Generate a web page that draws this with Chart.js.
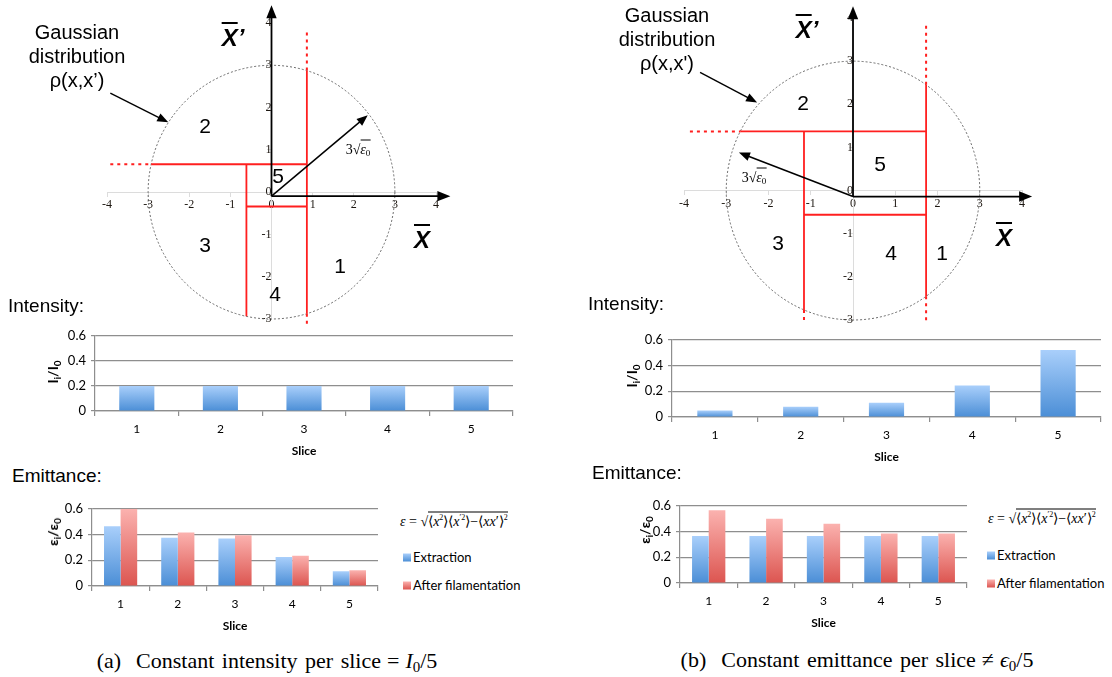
<!DOCTYPE html>
<html>
<head>
<meta charset="utf-8">
<title>Slicing of a Gaussian beam in phase space</title>
<script src="https://cdn.jsdelivr.net/npm/chart.js@4.4.1/dist/chart.umd.min.js"></script>
<style>
  body { margin: 0; background: #fff; }
  #page { position: relative; width: 1112px; height: 677px; overflow: hidden;
          font-family: "Liberation Sans", Arial, sans-serif; color: #000; }
  #page canvas { position: absolute; }
  .t { position: absolute; white-space: nowrap; line-height: 1; transform: translate(-50%, -50%); }
  .l { position: absolute; white-space: nowrap; line-height: 1; transform: translateY(-50%); }
  .num { font-size: 21px; }
  .gauss { font-size: 20px; line-height: 24px; text-align: center; }
  .axlab { font-size: 24px; font-weight: bold; font-style: italic; }
  .ov { text-decoration: overline; text-decoration-thickness: 2px; }
  .sec { font-size: 19px; }
  .ytitle { font-family: Lato, sans-serif; font-weight: bold; font-size: 14px;
            transform: translate(-50%, -50%) rotate(-90deg); }
  .ytitle sub { font-size: 10px; vertical-align: -3px; }
  .cap { font-family: "Liberation Serif", serif; font-size: 22px; word-spacing: 2px; }
  .cap sub { font-size: 15px; vertical-align: -4px; }
  .cap .op { padding: 0 6px; }
  .formula { font-family: "Liberation Serif", serif; font-size: 14px; }
  .formula sup { font-size: 8px; vertical-align: 6px; }
  .rad { border-top: 1px solid #000; padding-top: 1px; }
  .rt { font-family: "Liberation Serif", serif; font-size: 14px; }
  .rt sub { font-size: 9px; vertical-align: -2px; }
  .leg { font-family: Lato, sans-serif; font-size: 13px; }
  .sw { display: inline-block; width: 8px; height: 8px; margin-right: 2px; vertical-align: 0px; }
  .sw.b { background: linear-gradient(#a9cffb, #4b8ed6); }
  .sw.r { background: linear-gradient(#fbb2af, #dc5550); }
</style>
</head>
<body>
<div id="page">
  <canvas id="phaseA"></canvas>
  <canvas id="phaseB"></canvas>
  <canvas id="intensityA"></canvas>
  <canvas id="intensityB"></canvas>
  <canvas id="emittanceA"></canvas>
  <canvas id="emittanceB"></canvas>

  <!-- (a) phase space labels -->
  <div class="t gauss" style="left:77px; top:56px;">Gaussian<br>distribution<br>&rho;(x,x&rsquo;)</div>
  <div class="t axlab" style="left:233px; top:38px;"><span class="ov">X</span>&rsquo;</div>
  <div class="t axlab" style="left:422px; top:240px;"><span class="ov">X</span></div>
  <div class="t num" style="left:205px; top:125px;">2</div>
  <div class="t num" style="left:278px; top:175px;">5</div>
  <div class="t num" style="left:205px; top:244px;">3</div>
  <div class="t num" style="left:340px; top:265px;">1</div>
  <div class="t num" style="left:275px; top:293px;">4</div>
  <div class="t rt" style="left:358px; top:150px;">3&radic;<span class="rad"><i>&epsilon;</i><sub>0</sub></span></div>

  <!-- (b) phase space labels -->
  <div class="t gauss" style="left:667px; top:39px;">Gaussian<br>distribution<br>&rho;(x,x')</div>
  <div class="t axlab" style="left:807px; top:30px;"><span class="ov">X</span>&rsquo;</div>
  <div class="t axlab" style="left:1004px; top:238px;"><span class="ov">X</span></div>
  <div class="t num" style="left:803px; top:102px;">2</div>
  <div class="t num" style="left:880px; top:163px;">5</div>
  <div class="t num" style="left:778px; top:242px;">3</div>
  <div class="t num" style="left:891px; top:252px;">4</div>
  <div class="t num" style="left:942px; top:252px;">1</div>
  <div class="t rt" style="left:754px; top:178px;">3&radic;<span class="rad"><i>&epsilon;</i><sub>0</sub></span></div>

  <!-- section headings -->
  <div class="l sec" style="left:8px; top:305px;">Intensity:</div>
  <div class="l sec" style="left:588px; top:303px;">Intensity:</div>
  <div class="l sec" style="left:12px; top:475px;">Emittance:</div>
  <div class="l sec" style="left:592px; top:472px;">Emittance:</div>

  <!-- rotated y titles -->
  <div class="t ytitle" style="left:54px; top:372px;">I<sub>i</sub>/I<sub>0</sub></div>
  <div class="t ytitle" style="left:633px; top:376px;">I<sub>i</sub>/I<sub>0</sub></div>
  <div class="t ytitle" style="left:54px; top:532px;">&epsilon;<sub>i</sub>/&epsilon;<sub>0</sub></div>
  <div class="t ytitle" style="left:646px; top:530px;">&epsilon;<sub>i</sub>/&epsilon;<sub>0</sub></div>

  <!-- emittance formula and legends -->
  <div class="l formula" style="left:400px; top:521px;"><i>&epsilon;</i> = &radic;<span class="rad">&lang;<i>x</i><sup>2</sup>&rang;&lang;<i>x</i><sup>&prime;2</sup>&rang;&minus;&lang;<i>xx</i>&prime;&rang;<sup>2</sup></span></div>
  <div class="l leg" style="left:403px; top:557px;"><span class="sw b"></span>Extraction</div>
  <div class="l leg" style="left:403px; top:585px;"><span class="sw r"></span>After filamentation</div>

  <div class="l formula" style="left:988px; top:518px;"><i>&epsilon;</i> = &radic;<span class="rad">&lang;<i>x</i><sup>2</sup>&rang;&lang;<i>x</i><sup>&prime;2</sup>&rang;&minus;&lang;<i>xx</i>&prime;&rang;<sup>2</sup></span></div>
  <div class="l leg" style="left:987px; top:555px;"><span class="sw b"></span>Extraction</div>
  <div class="l leg" style="left:987px; top:583px;"><span class="sw r"></span>After filamentation</div>

  <!-- captions -->
  <div class="t cap" style="left:267px; top:662px;">(a)&nbsp; Constant intensity per slice<span class="op">=</span><i>I</i><sub>0</sub>/5</div>
  <div class="t cap" style="left:857px; top:661px;">(b)&nbsp; Constant emittance per slice<span class="op">&ne;</span><i>&#x3F5;</i><sub>0</sub>/5</div>
</div>

<script>
(function () {
    'use strict';

    // ---- data ----
    var slices = ['1', '2', '3', '4', '5'];
    var intensityA = [0.2, 0.2, 0.2, 0.2, 0.2];
    var intensityB = [0.05, 0.08, 0.11, 0.245, 0.52];
    var extractionA = [0.465, 0.375, 0.37, 0.225, 0.115];
    var filamentA = [0.6, 0.415, 0.395, 0.235, 0.122];
    var extractionB = [0.365, 0.365, 0.365, 0.365, 0.365];
    var filamentB = [0.565, 0.5, 0.46, 0.385, 0.385];
    var barTicks = [0, 0.2, 0.4, 0.6];

    // phase space (normalised units), beam edge at 3 sigma
    var edge = 3;
    var phaseXTicks = [-4, -3, -2, -1, 0, 1, 2, 3, 4];
    var phaseYTicks = [-3, -2, -1, 0, 1, 2, 3, 4];
    var cutXA = [-0.61, 0.86];
    var cutYA = [-0.34, 0.66];
    var cutXB = [-1.16, 1.73];
    var cutYB = [-0.56, 1.37];

    var RED = '#ff1f1f';

    function onCircle(v) {
        return Math.sqrt(edge * edge - v * v);
    }

    function segment(x0, y0, x1, y1, dotted) {
        return {
            data: [{x: x0, y: y0}, {x: x1, y: y1}],
            showLine: true,
            borderColor: RED,
            borderWidth: dotted ? 2 : 1.8,
            borderDash: dotted ? [3, 4] : [],
            pointRadius: 0,
            clip: false
        };
    }

    // the four cuts: x1 and y1 are full chords, the others end on a cut
    function sliceLines(cx, cy, reach) {
        var sets = [
            segment(cx[1], -onCircle(cx[1]), cx[1], onCircle(cx[1])),
            segment(cx[0], cy[1], cx[0], -onCircle(cx[0])),
            segment(-onCircle(cy[1]), cy[1], cx[1], cy[1]),
            segment(cx[0], cy[0], cx[1], cy[0]),
            segment(cx[1], onCircle(cx[1]), cx[1], reach.top, true),
            segment(cx[1], -onCircle(cx[1]), cx[1], reach.bottom, true),
            segment(reach.left, cy[1], -onCircle(cy[1]), cy[1], true)
        ];
        if (reach.bottomLeft) {
            sets.push(segment(cx[0], -onCircle(cx[0]), cx[0], reach.bottomLeft, true));
        }
        return sets;
    }

    function arrow(ctx, x0, y0, x1, y1, head, lw) {
        var a = Math.atan2(y1 - y0, x1 - x0);
        var c = Math.cos(a), s = Math.sin(a);
        ctx.lineWidth = lw;
        ctx.beginPath();
        ctx.moveTo(x0, y0);
        ctx.lineTo(x1 - head * 0.8 * c, y1 - head * 0.8 * s);
        ctx.stroke();
        ctx.beginPath();
        ctx.moveTo(x1, y1);
        ctx.lineTo(x1 - head * c + head * 0.4 * s, y1 - head * s - head * 0.4 * c);
        ctx.lineTo(x1 - head * c - head * 0.4 * s, y1 - head * s + head * 0.4 * c);
        ctx.closePath();
        ctx.fill();
    }

    function phaseDecor(opt) {
        return {
            id: 'phaseDecor',
            beforeDatasetsDraw: function (chart) {
                var ctx = chart.ctx, xs = chart.scales.x, ys = chart.scales.y;
                var cx = xs.getPixelForValue(0), cy = ys.getPixelForValue(0);
                ctx.save();
                ctx.strokeStyle = '#5a5a5a';
                ctx.lineWidth = 0.9;
                ctx.setLineDash([2, 2]);
                ctx.beginPath();
                ctx.ellipse(cx, cy, xs.getPixelForValue(edge) - cx, cy - ys.getPixelForValue(edge), 0, 0, Math.PI * 2);
                ctx.stroke();
                ctx.restore();
            },
            afterDatasetsDraw: function (chart) {
                var ctx = chart.ctx, xs = chart.scales.x, ys = chart.scales.y;
                var ox = xs.getPixelForValue(0), oy = ys.getPixelForValue(0) + opt.drop;
                ctx.save();
                ctx.strokeStyle = '#000';
                ctx.fillStyle = '#000';
                arrow(ctx, ox, oy, xs.getPixelForValue(opt.axisEnd[0]), oy, 13, 1.8);
                arrow(ctx, ox, oy, ox, ys.getPixelForValue(opt.axisEnd[1]), 13, 1.8);
                arrow(ctx, ox, oy, xs.getPixelForValue(opt.radius[0]), ys.getPixelForValue(opt.radius[1]), 11, 1.5);
                arrow(ctx, xs.getPixelForValue(opt.pointer[0]), ys.getPixelForValue(opt.pointer[1]),
                    xs.getPixelForValue(opt.pointer[2]), ys.getPixelForValue(opt.pointer[3]), 11, 1.4);
                ctx.restore();
            }
        };
    }

    function drawPhase(id, box, datasets, opt) {
        var cv = document.getElementById(id);
        cv.style.left = box.left + 'px';
        cv.style.top = '0px';
        cv.width = box.width;
        cv.height = box.height;

        var tickFont = {family: 'Liberation Serif', size: 12};
        new Chart(cv, {
            type: 'scatter',
            data: {datasets: datasets},
            options: {
                responsive: false,
                animation: false,
                layout: {padding: box.pad},
                plugins: {legend: {display: false}, tooltip: {enabled: false}},
                scales: {
                    x: {
                        type: 'linear', position: {y: 0}, min: -4, max: 4,
                        afterBuildTicks: function (s) { s.ticks = phaseXTicks.map(function (v) { return {value: v}; }); },
                        grid: {drawOnChartArea: false, color: '#dcdcdc', tickLength: 4},
                        border: {color: '#dcdcdc'},
                        ticks: {font: tickFont, color: '#1c1610', padding: 2, autoSkip: false, maxRotation: 0}
                    },
                    y: {
                        type: 'linear', position: {x: 0}, min: -3, max: 4,
                        afterBuildTicks: function (s) { s.ticks = phaseYTicks.map(function (v) { return {value: v}; }); },
                        grid: {drawOnChartArea: false, color: '#dcdcdc', tickLength: 4},
                        border: {color: '#dcdcdc'},
                        ticks: {font: tickFont, color: '#1c1610', padding: 2, autoSkip: false}
                    }
                }
            },
            plugins: [phaseDecor(opt)]
        });
    }

    drawPhase('phaseA', {left: 0, width: 470, height: 340, pad: {left: 107, right: 34, top: 23, bottom: 21}},
        sliceLines(cutXA, cutYA, {top: 3.78, bottom: -3.14, left: -3.92}),
        {drop: 4, axisEnd: [4.35, 4.42], radius: [2.34, 1.82], pointer: [-3.92, 2.34, -2.51, 1.65]});

    drawPhase('phaseB', {left: 560, width: 552, height: 340, pad: {left: 124, right: 90, top: 18, bottom: 20}},
        sliceLines(cutXB, cutYB, {top: 3.85, bottom: -3.04, left: -3.86, bottomLeft: -3.04}),
        {drop: 6, axisEnd: [4.24, 4.27], radius: [-2.7, 0.88], pointer: [-3.62, 2.74, -2.27, 2.04]});

    // ---- bar charts ----
    function gradientFill(top, bottom) {
        return function (c) {
            var chart = c.chart;
            if (!chart.chartArea || c.type !== 'data') {
                return bottom;
            }
            var ys = chart.scales.y;
            var y0 = ys.getPixelForValue(0), y1 = ys.getPixelForValue(c.raw);
            if (y0 - y1 < 1) {
                return bottom;
            }
            var g = chart.ctx.createLinearGradient(0, y1, 0, y0);
            g.addColorStop(0, top);
            g.addColorStop(1, bottom);
            return g;
        };
    }

    var blue = gradientFill('#a9cffb', '#4b8ed6');
    var red = gradientFill('#fbb2af', '#dc5550');

    function drawBarChart(id, plot, datasets, groupWidth) {
        var yW = 40, xH = 51, padT = 10, padR = 6;
        var cv = document.getElementById(id);
        var left = plot.l - yW, top = plot.t - padT;
        cv.style.left = left + 'px';
        cv.style.top = top + 'px';
        cv.width = plot.r - left + padR;
        cv.height = plot.b + xH - top;

        var GRID = '#8e8e8e';
        new Chart(cv, {
            type: 'bar',
            data: {labels: slices, datasets: datasets},
            options: {
                responsive: false,
                animation: false,
                categoryPercentage: groupWidth,
                barPercentage: 1,
                layout: {padding: {top: padT, right: padR, left: 0, bottom: 0}},
                plugins: {legend: {display: false}, tooltip: {enabled: false}},
                scales: {
                    x: {
                        grid: {drawOnChartArea: false, color: GRID, lineWidth: 1.2, tickLength: 5},
                        border: {color: GRID, width: 1.2},
                        ticks: {font: {family: 'Lato, sans-serif', size: 12}, color: '#000', padding: 6},
                        title: {display: true, text: 'Slice', color: '#000',
                                font: {family: 'Lato, sans-serif', size: 12, weight: 'bold'}},
                        afterFit: function (s) { s.height = xH; }
                    },
                    y: {
                        min: 0, max: 0.6,
                        afterBuildTicks: function (s) { s.ticks = barTicks.map(function (v) { return {value: v}; }); },
                        grid: {color: GRID, lineWidth: 1.2, tickLength: 4},
                        border: {color: GRID, width: 1.2},
                        ticks: {font: {family: 'Lato, sans-serif', size: 13}, color: '#000', padding: 5,
                                callback: function (v) { return String(v); }},
                        afterFit: function (s) { s.width = yW; }
                    }
                }
            }
        });
    }

    drawBarChart('intensityA', {l: 95, r: 513, t: 333, b: 411},
        [{label: 'Intensity', data: intensityA, backgroundColor: blue}], 0.42);
    drawBarChart('intensityB', {l: 672, r: 1101, t: 337, b: 417},
        [{label: 'Intensity', data: intensityB, backgroundColor: blue}], 0.41);
    drawBarChart('emittanceA', {l: 92, r: 378, t: 506, b: 586}, [
        {label: 'Extraction', data: extractionA, backgroundColor: blue},
        {label: 'After filamentation', data: filamentA, backgroundColor: red}
    ], 0.58);
    drawBarChart('emittanceB', {l: 680, r: 967, t: 503, b: 583}, [
        {label: 'Extraction', data: extractionB, backgroundColor: blue},
        {label: 'After filamentation', data: filamentB, backgroundColor: red}
    ], 0.58);
})();
</script>
</body>
</html>
